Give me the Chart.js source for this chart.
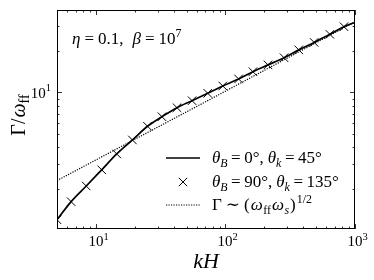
<!DOCTYPE html>
<html>
<head>
<meta charset="utf-8">
<script src="https://cdn.jsdelivr.net/npm/chart.js@4.4.1/dist/chart.umd.min.js"></script>
<style>
  html, body { margin: 0; padding: 0; background: #fff; }
  #plot { display: block; }
</style>
</head>
<body>
<canvas id="plot" width="374" height="280"></canvas>
<script>
// values (log-log)
const kCross = [5, 6.43, 8.41, 11.07, 14.47, 19.11, 24.99, 32.31, 42.23, 55.2, 72.9, 95.3, 126.2, 162.8, 212.8, 283.1, 368, 483.5, 640, 821.8];
const gammaCross = [1.19, 1.61, 2.09, 2.74, 3.57, 4.51, 5.67, 6.65, 7.73, 8.69, 9.83, 11.11, 12.49, 14.1, 15.8, 17.8, 20.3, 23.0, 26.3, 29.9];
const kLine = [5, 6.43, 8.41, 11.07, 14.47, 19.11, 24.99, 32.31, 42.23, 55.2, 72.9, 95.3, 126.2, 162.8, 212.8, 283.1, 368, 483.5, 640, 821.8, 1000];
const gammaLine = [1.19, 1.61, 2.09, 2.74, 3.57, 4.51, 5.67, 6.65, 7.73, 8.69, 9.83, 11.11, 12.49, 14.1, 15.8, 17.8, 20.3, 23.0, 26.3, 29.9, 32.1];
const kDot = [5, 72.9, 1000];
const gammaDot = [2.29, 8.7, 32.4];
const xTickLabels = { 10: '1', 100: '2', 1000: '3' };
const yTickLabels = { 10: '1' };

const FONT = '"Liberation Serif", "DejaVu Serif", serif';

function pts(xs, ys) {
    return xs.map((x, i) => ({ x: x, y: ys[i] }));
}

// text with italic / sub / sup pieces, gap = extra space after a piece
function richWidth(ctx, parts, size) {
    let w = 0;
    parts.forEach(p => {
        const s = (p.sub || p.sup) ? size * 0.7 : size;
        ctx.font = (p.it ? 'italic ' : '') + s + 'px ' + FONT;
        w += ctx.measureText(p.t).width + (p.gap || 0);
    });
    return w;
}
function drawRich(ctx, parts, x, y, size, align) {
    let cx = x;
    if (align === 'center') cx = x - richWidth(ctx, parts, size) / 2;
    if (align === 'right') cx = x - richWidth(ctx, parts, size);
    ctx.textBaseline = 'alphabetic';
    ctx.textAlign = 'left';
    parts.forEach(p => {
        const s = (p.sub || p.sup) ? size * 0.7 : size;
        ctx.font = (p.it ? 'italic ' : '') + s + 'px ' + FONT;
        let dy = 0;
        if (p.sub) dy = size * 0.22;
        if (p.sup) dy = -size * 0.42;
        ctx.fillText(p.t, cx, y + dy);
        cx += ctx.measureText(p.t).width + (p.gap || 0);
    });
}

// "=" with math spacing
function eq(g) {
    return [{ t: '', gap: g }, { t: '=', gap: g }];
}

function isInt(v) {
    const e = Math.floor(Math.log10(v) + 1e-9);
    const s = v / Math.pow(10, e);
    return Math.abs(s - Math.round(s)) < 1e-6;
}
function isMajor(v) {
    const l = Math.log10(v);
    return Math.abs(l - Math.round(l)) < 1e-6;
}

const decorPlugin = {
    id: 'decor',
    afterDraw(chart) {
        const ctx = chart.ctx;
        const a = chart.chartArea;
        const xs = chart.scales.x, ys = chart.scales.y;
        ctx.save();
        ctx.fillStyle = '#000';
        ctx.strokeStyle = '#000';

        // frame
        ctx.lineWidth = 1;
        ctx.strokeRect(a.left + 0.5, a.top + 0.5, a.right - a.left - 1, a.bottom - a.top - 1);

        // inward ticks, all four sides
        ctx.lineWidth = 0.8;
        xs.ticks.forEach(t => {
            if (!isInt(t.value)) return;
            const px = Math.round(xs.getPixelForValue(t.value)) + 0.5;
            if (px < a.left - 0.5 || px > a.right + 0.5) return;
            const len = isMajor(t.value) ? 5 : 2.5;
            ctx.beginPath();
            ctx.moveTo(px, a.bottom); ctx.lineTo(px, a.bottom - len);
            ctx.moveTo(px, a.top); ctx.lineTo(px, a.top + len);
            ctx.stroke();
            if (xTickLabels[t.value]) {
                drawRich(ctx, [{ t: '10' }, { t: xTickLabels[t.value], sup: true }], px + 2, a.bottom + 17, 15, 'center');
            }
        });
        ys.ticks.forEach(t => {
            if (!isInt(t.value)) return;
            const py = Math.round(ys.getPixelForValue(t.value)) + 0.5;
            if (py < a.top - 0.5 || py > a.bottom + 0.5) return;
            const len = isMajor(t.value) ? 5 : 2.5;
            ctx.beginPath();
            ctx.moveTo(a.left, py); ctx.lineTo(a.left + len, py);
            ctx.moveTo(a.right, py); ctx.lineTo(a.right - len, py);
            ctx.stroke();
            if (yTickLabels[t.value]) {
                drawRich(ctx, [{ t: '10' }, { t: yTickLabels[t.value], sup: true }], a.left - 6, py + 5, 15, 'right');
            }
        });

        // axis titles
        drawRich(ctx, [{ t: 'kH', it: true, gap: 0 }], (a.left + a.right) / 2, 268, 22, 'center');
        ctx.save();
        ctx.translate(25, 115);
        ctx.rotate(-Math.PI / 2);
        drawRich(ctx, [{ t: 'Γ' }, { t: '/', gap: 1 }, { t: 'ω', it: true }, { t: 'ff', sub: true }], 0, 0, 20, 'center');
        ctx.restore();

        // annotation
        drawRich(ctx, [].concat(
            [{ t: 'η', it: true }], eq(4), [{ t: '0.1,', gap: 9 }, { t: 'β', it: true }], eq(4), [{ t: '10' }, { t: '7', sup: true }]
        ), 72, 44, 17, 'left');

        // legend
        const lx0 = 166, lx1 = 200, tx = 212;
        const rows = [158, 182, 205];
        ctx.lineWidth = 1.6;
        ctx.setLineDash([]);
        ctx.beginPath(); ctx.moveTo(lx0, rows[0]); ctx.lineTo(lx1, rows[0]); ctx.stroke();
        ctx.lineWidth = 1;
        const cxm = (lx0 + lx1) / 2, r = 4.2;
        ctx.beginPath();
        ctx.moveTo(cxm - r, rows[1] - r); ctx.lineTo(cxm + r, rows[1] + r);
        ctx.moveTo(cxm - r, rows[1] + r); ctx.lineTo(cxm + r, rows[1] - r);
        ctx.stroke();
        ctx.lineWidth = 1.2;
        ctx.setLineDash([1.2, 1.3]);
        ctx.beginPath(); ctx.moveTo(lx0, rows[2]); ctx.lineTo(lx1, rows[2]); ctx.stroke();
        ctx.setLineDash([]);

        const ls = 17;
        drawRich(ctx, [].concat(
            [{ t: 'θ', it: true }, { t: 'B', it: true, sub: true }], eq(3.5), [{ t: '0°,', gap: 4 },
            { t: 'θ', it: true }, { t: 'k', it: true, sub: true }], eq(3.5), [{ t: '45°' }]
        ), tx, rows[0] + 5, ls, 'left');
        drawRich(ctx, [].concat(
            [{ t: 'θ', it: true }, { t: 'B', it: true, sub: true }], eq(3.5), [{ t: '90°,', gap: 4 },
            { t: 'θ', it: true }, { t: 'k', it: true, sub: true }], eq(3.5), [{ t: '135°' }]
        ), tx, rows[1] + 5, ls, 'left');
        drawRich(ctx, [
            { t: 'Γ', gap: 4 }, { t: '∼', gap: 4 }, { t: '(', gap: 1 }, { t: 'ω', it: true, gap: 0.5 }, { t: 'ff', sub: true, gap: 1 },
            { t: 'ω', it: true, gap: 0.5 }, { t: 's', it: true, sub: true, gap: 1 }, { t: ')', gap: 1 }, { t: '1/2', sup: true }
        ], tx, rows[2] + 5, ls, 'left');

        ctx.restore();
    }
};

new Chart(document.getElementById('plot').getContext('2d'), {
    type: 'line',
    data: {
        datasets: [{
            label: 'solid',
            data: pts(kLine, gammaLine),
            borderColor: '#000',
            borderWidth: 1.7,
            pointRadius: 0,
            fill: false,
            cubicInterpolationMode: 'monotone'
        }, {
            label: 'cross',
            data: pts(kCross, gammaCross),
            showLine: false,
            pointStyle: 'crossRot',
            pointRadius: 6,
            borderColor: '#000',
            borderWidth: 1,
            pointBorderWidth: 1
        }, {
            label: 'dotted',
            data: pts(kDot, gammaDot),
            borderColor: '#000',
            borderWidth: 1.2,
            borderDash: [1.2, 1.3],
            pointRadius: 0,
            fill: false
        }]
    },
    options: {
        responsive: false,
        animation: false,
        events: [],
        layout: { padding: { left: 0, right: 19, top: 10, bottom: 0 } },
        plugins: { legend: { display: false }, tooltip: { enabled: false } },
        scales: {
            x: {
                type: 'logarithmic',
                min: 5,
                max: 1000,
                grid: { display: false },
                border: { display: false },
                ticks: { display: false },
                afterFit: function (scale) { scale.height = 51; }
            },
            y: {
                type: 'logarithmic',
                min: 1.02,
                max: 39.5,
                grid: { display: false },
                border: { display: false },
                ticks: { display: false },
                afterFit: function (scale) { scale.width = 57; }
            }
        }
    },
    plugins: [decorPlugin]
});
</script>
</body>
</html>
